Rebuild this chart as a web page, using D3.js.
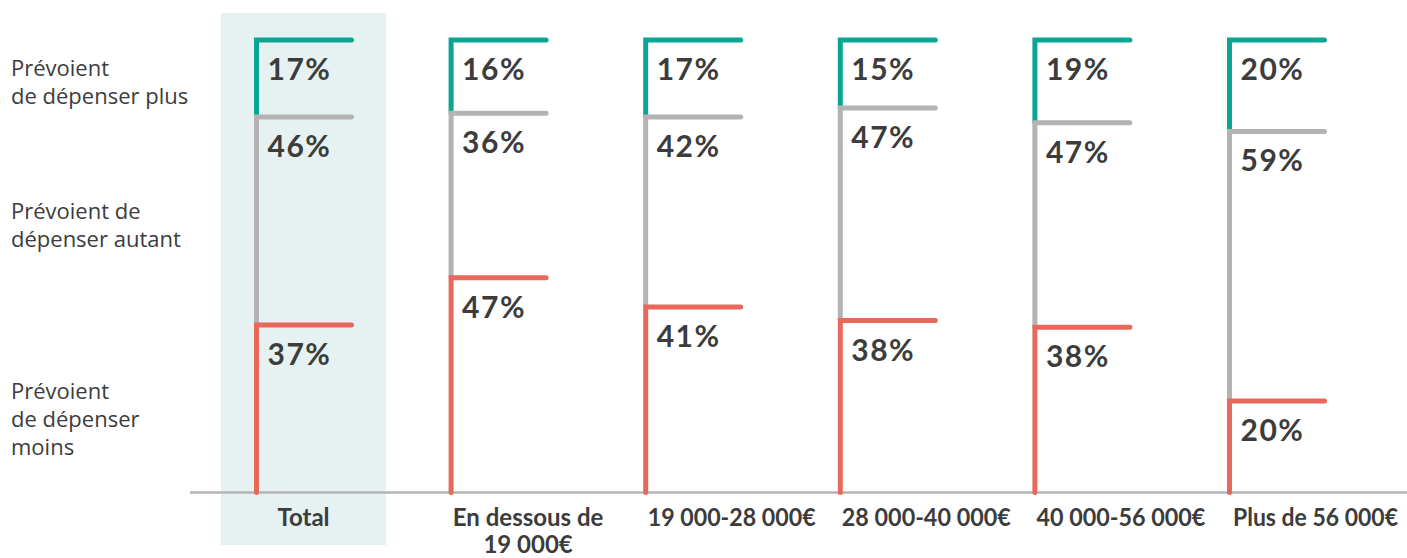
<!DOCTYPE html>
<html><head><meta charset="utf-8">
<script src="https://cdn.jsdelivr.net/npm/d3@7"></script>
<style>
html,body{margin:0;padding:0;background:#fff;}
svg{display:block;}
</style></head>
<body>
<svg id="chart" width="1407" height="558"></svg>
<script>
const categories = ["Total", "En dessous de\n19 000€", "19 000-28 000€", "28 000-40 000€", "40 000-56 000€", "Plus de 56 000€"];
const moins  = [37, 47, 41, 38, 38, 20];
const autant = [46, 36, 42, 47, 47, 59];
const plus   = [17, 16, 17, 15, 19, 20];
const legendLabels = ["Prévoient\nde dépenser plus", "Prévoient de\ndépenser autant", "Prévoient\nde dépenser\nmoins"];

const colors = {moins: "#e8695b", autant: "#b3b3b3", plus: "#0aa594"};
const textColor = "#3c3c3c";

const rows = categories.map((c, i) => ({cat: c, moins: moins[i], autant: autant[i], plus: plus[i]}));
const keys = ["moins", "autant", "plus"];
const stacked = d3.stack().keys(keys).offset(d3.stackOffsetExpand)(rows);

const svg = d3.select("#chart");
const baseY = 492.5, topY = 40;
const x = d3.scalePoint().domain(categories).range([256.5, 1229.5]);
const y = d3.scaleLinear().domain([0, 1]).range([baseY, topY]);
const armLen = 95;

// highlight background for Total
svg.append("rect")
  .attr("x", x(categories[0]) - 35.5).attr("y", 13)
  .attr("width", 165).attr("height", 532)
  .attr("fill", "#e6f2f1");

// baseline axis
svg.append("line")
  .attr("x1", 190).attr("x2", 1407)
  .attr("y1", baseY).attr("y2", baseY)
  .attr("stroke", "#b5b5b5").attr("stroke-width", 2.5);

// segments (top series first so lower segments' arms overlay)
["plus", "autant", "moins"].forEach(k => {
  const s = stacked.find(d => d.key === k);
  svg.append("g").selectAll("path").data(s).join("path")
    .attr("d", d => {
      const cx = x(d.data.cat);
      const y0 = y(d[0]), y1 = y(d[1]);
      return `M${cx},${y0}L${cx},${y1}L${cx + armLen},${y1}`;
    })
    .attr("fill", "none")
    .attr("stroke", colors[k])
    .attr("stroke-width", 5)
    .attr("stroke-linejoin", "miter")
    .attr("stroke-linecap", "round");
});

// value labels
keys.forEach(k => {
  const s = stacked.find(d => d.key === k);
  svg.append("g").selectAll("text").data(s).join("text")
    .attr("x", d => x(d.data.cat) + 11)
    .attr("y", d => y(d[1]) + 40)
    .attr("font-family", "Lato, sans-serif")
    .attr("font-weight", 700)
    .attr("font-size", 30)
    .attr("letter-spacing", 1.5)
    .attr("fill", textColor)
    .text(d => d.data[k] + "%");
});

// category labels
const catWidths = [null, null, 168, 169, 169, 165];
const catG = svg.append("g");
categories.forEach((c, i) => {
  const cx = i === 0 ? x(c) + 47 : (i === 1 ? x(c) + 77 : x(c) + 86);
  const t = catG.append("text")
    .attr("x", cx).attr("y", 526)
    .attr("text-anchor", "middle")
    .attr("font-family", "Lato, sans-serif")
    .attr("font-weight", 700)
    .attr("font-size", 24)
    .attr("fill", textColor);
  c.split("\n").forEach((line, j) => {
    const ts = t.append("tspan").attr("x", cx).attr("dy", j === 0 ? 0 : 27).text(line);
    if (catWidths[i]) ts.attr("textLength", catWidths[i]).attr("lengthAdjust", "spacingAndGlyphs");
  });
});

// legend labels on the left
const legendY = [76, 219, 399];
legendLabels.forEach((lab, i) => {
  const t = svg.append("text")
    .attr("x", 11).attr("y", legendY[i])
    .attr("font-family", "'Open Sans', sans-serif")
    .attr("font-size", 22)
    .attr("fill", textColor);
  lab.split("\n").forEach((line, j) => {
    t.append("tspan").attr("x", 11).attr("dy", j === 0 ? 0 : 28).text(line);
  });
});
</script>
</body></html>
